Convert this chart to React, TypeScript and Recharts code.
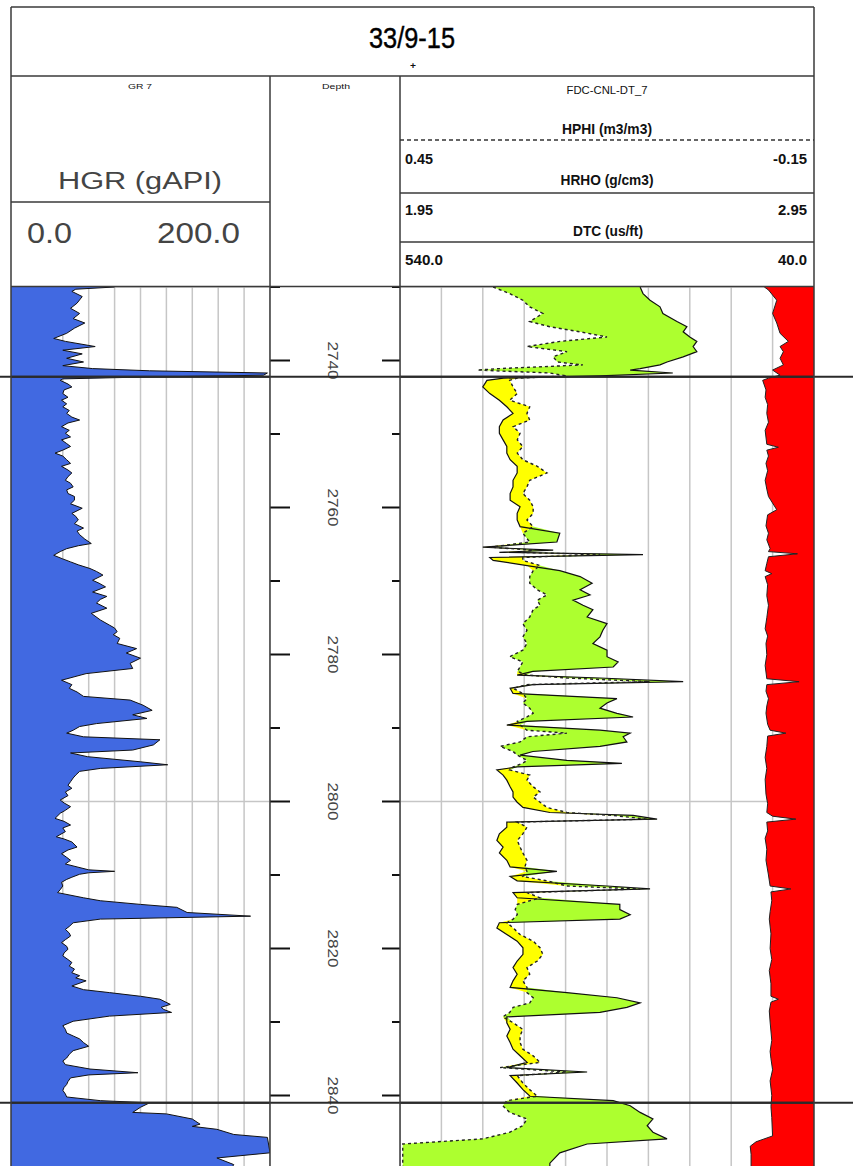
import React from 'react';
import { ComposedChart, Area, Line, XAxis, YAxis, CartesianGrid, ReferenceLine } from 'recharts';

// depth window of the plot (m)
const TOP_DEPTH = 2730;
const BASE_DEPTH = 2850;

const depthTicks = [2730, 2740, 2750, 2760, 2770, 2780, 2790, 2800, 2810, 2820, 2830, 2840, 2850];
const depthLabels = [2740, 2760, 2780, 2800, 2820, 2840];
const depthGrid = [2800];
const formationTops = [2742.2, 2841.0];

const grTicks = [0, 20, 40, 60, 80, 100, 120, 140, 160, 180, 200];
const dtcTicks = [40, 90, 140, 190, 240, 290, 340, 390, 440, 490, 540];

// [depth, HGR gAPI]
const grLog: [number, number][] = [
  [2730.0, 80], [2730.3, 50], [2730.6, 47], [2731.3, 55], [2732.2, 51], [2732.9, 46], [2733.6, 53],
  [2734.3, 48], [2734.9, 57], [2735.6, 49], [2736.3, 43], [2737.0, 33], [2737.4, 42], [2738.1, 65],
  [2738.6, 40], [2739.1, 55], [2739.7, 43], [2740.2, 56], [2740.7, 40], [2741.1, 63], [2741.4, 107],
  [2741.7, 198], [2742.0, 195], [2742.3, 90], [2742.5, 40], [2742.7, 38], [2743.2, 44], [2743.6, 47],
  [2744.0, 41], [2744.5, 40], [2745.0, 44], [2745.4, 39], [2745.9, 43], [2746.3, 40], [2746.8, 45],
  [2747.2, 43], [2747.7, 47], [2748.1, 53], [2748.5, 44], [2749.0, 39], [2749.5, 45], [2749.9, 42],
  [2750.4, 46], [2750.8, 39], [2751.3, 43], [2751.7, 46], [2752.2, 40], [2752.6, 34], [2753.0, 40],
  [2753.5, 43], [2754.0, 46], [2754.4, 39], [2754.9, 44], [2755.3, 47], [2755.8, 44], [2756.3, 42],
  [2756.7, 46], [2757.2, 48], [2757.6, 43], [2758.1, 44], [2758.5, 49], [2759.0, 49], [2759.5, 46],
  [2760.1, 55], [2760.8, 47], [2761.2, 50], [2761.7, 52], [2762.2, 49], [2762.8, 56], [2763.2, 51],
  [2763.7, 53], [2764.3, 57], [2764.9, 62], [2765.2, 52], [2765.6, 43], [2766.0, 38], [2766.5, 33],
  [2767.0, 40], [2767.4, 46], [2767.8, 52], [2768.3, 61], [2768.7, 66], [2769.2, 71], [2769.9, 63],
  [2770.3, 68], [2770.8, 73], [2771.5, 63], [2772.1, 74], [2772.5, 69], [2773.0, 66], [2773.7, 74],
  [2774.4, 62], [2775.3, 69], [2776.0, 76], [2776.4, 80], [2776.9, 82], [2777.3, 79], [2777.8, 84],
  [2778.5, 82], [2779.2, 97], [2779.8, 89], [2780.5, 100], [2781.2, 92], [2781.9, 94], [2782.6, 58],
  [2783.5, 39], [2784.1, 47], [2784.6, 45], [2785.1, 51], [2785.7, 56], [2786.2, 92], [2786.9, 102],
  [2787.6, 109], [2788.2, 94], [2788.7, 105], [2789.4, 66], [2789.8, 53], [2790.3, 48], [2790.7, 43],
  [2791.2, 56], [2791.6, 115], [2792.3, 110], [2793.0, 94], [2793.4, 46], [2793.9, 59], [2794.6, 100],
  [2795.0, 121], [2795.5, 69], [2795.9, 53], [2796.4, 50], [2796.8, 48], [2797.3, 46], [2797.8, 44],
  [2798.2, 47], [2798.7, 42], [2799.2, 44], [2799.8, 38], [2800.2, 41], [2800.7, 46], [2801.2, 42],
  [2801.6, 38], [2802.3, 34], [2802.7, 41], [2803.2, 46], [2803.6, 40], [2804.1, 42], [2804.8, 35],
  [2805.1, 41], [2805.5, 47], [2806.2, 51], [2806.6, 44], [2807.1, 39], [2807.6, 43], [2808.0, 46],
  [2808.5, 42], [2808.9, 51], [2809.3, 60], [2809.5, 80], [2809.7, 60], [2809.9, 53], [2810.3, 47],
  [2810.6, 43], [2811.0, 39], [2811.5, 40], [2812.0, 38], [2812.4, 36], [2813.1, 56], [2813.5, 69],
  [2814.0, 100], [2814.4, 128], [2815.1, 136], [2815.6, 185], [2816.0, 69], [2816.5, 48], [2817.0, 45],
  [2817.4, 42], [2817.9, 45], [2818.3, 46], [2818.8, 42], [2819.2, 39], [2819.7, 43], [2820.1, 44],
  [2820.6, 41], [2821.0, 40], [2821.5, 44], [2821.9, 47], [2822.4, 45], [2822.8, 49], [2823.3, 47],
  [2823.7, 53], [2824.0, 50], [2824.4, 58], [2825.1, 47], [2825.6, 56], [2826.0, 76], [2826.5, 100],
  [2826.9, 115], [2827.6, 123], [2828.0, 116], [2828.3, 118], [2828.7, 124], [2829.2, 76], [2829.9, 48],
  [2830.5, 40], [2831.0, 42], [2831.5, 43], [2831.9, 48], [2832.3, 53], [2832.8, 56], [2833.3, 60],
  [2833.9, 48], [2834.4, 45], [2834.9, 43], [2835.3, 40], [2835.8, 42], [2836.4, 61], [2836.9, 98],
  [2837.2, 60], [2837.6, 46], [2838.1, 44], [2838.5, 43], [2838.9, 41], [2839.3, 40], [2839.8, 42],
  [2840.2, 43], [2840.7, 69], [2841.0, 107], [2841.6, 100], [2842.3, 94], [2842.5, 120], [2843.2, 140],
  [2843.9, 146], [2844.2, 140], [2844.6, 159], [2845.3, 172], [2845.7, 198], [2847.8, 200], [2848.5, 159],
  [2849.4, 172], [2850.0, 170],
];

// [depth, HPHI m3/m3, HRHO g/cm3]
const ndLog: [number, number, number][] = [
  [2730.0, 0.315, 2.53], [2730.9, 0.291, 2.537], [2731.8, 0.272, 2.554], [2732.7, 0.262, 2.578],
  [2733.6, 0.243, 2.585], [2734.7, 0.262, 2.619], [2735.4, 0.233, 2.643], [2736.1, 0.189, 2.634],
  [2736.8, 0.15, 2.65], [2737.4, 0.218, 2.667], [2738.1, 0.266, 2.658], [2738.8, 0.208, 2.667],
  [2739.5, 0.228, 2.634], [2740.2, 0.222, 2.595], [2740.6, 0.185, 2.578], [2741.1, 0.305, 2.53],
  [2741.3, 0.338, 2.506], [2741.7, 0.233, 2.609], [2742.1, 0.208, 2.433], [2742.4, 0.28, 2.2],
  [2742.7, 0.291, 2.16], [2743.6, 0.286, 2.15], [2744.5, 0.28, 2.167], [2745.4, 0.291, 2.19],
  [2746.3, 0.262, 2.208], [2747.2, 0.266, 2.223], [2748.1, 0.262, 2.199], [2749.0, 0.286, 2.19],
  [2749.9, 0.276, 2.19], [2750.8, 0.28, 2.199], [2751.7, 0.272, 2.208], [2752.6, 0.28, 2.208],
  [2753.5, 0.272, 2.216], [2754.4, 0.251, 2.233], [2755.3, 0.237, 2.233], [2756.3, 0.262, 2.223],
  [2757.2, 0.266, 2.223], [2758.1, 0.272, 2.216], [2759.0, 0.262, 2.216], [2759.9, 0.257, 2.24],
  [2760.8, 0.257, 2.233], [2761.7, 0.266, 2.233], [2762.6, 0.257, 2.24], [2763.5, 0.272, 2.336],
  [2764.7, 0.262, 2.329], [2765.4, 0.32, 2.15], [2765.8, 0.257, 2.32], [2766.1, 0.276, 2.19],
  [2766.4, 0.16, 2.537], [2766.8, 0.272, 2.167], [2767.2, 0.272, 2.175], [2767.9, 0.247, 2.257],
  [2768.6, 0.257, 2.336], [2769.4, 0.262, 2.385], [2770.3, 0.262, 2.414], [2771.2, 0.251, 2.385],
  [2771.9, 0.237, 2.409], [2772.6, 0.251, 2.368], [2773.3, 0.247, 2.392], [2773.9, 0.257, 2.416],
  [2774.9, 0.262, 2.402], [2775.8, 0.272, 2.45], [2776.7, 0.266, 2.44], [2777.6, 0.272, 2.433],
  [2778.5, 0.266, 2.416], [2779.4, 0.272, 2.45], [2780.3, 0.291, 2.45], [2781.0, 0.272, 2.477],
  [2781.7, 0.276, 2.465], [2782.3, 0.28, 2.271], [2782.8, 0.266, 2.233], [2783.2, 0.208, 2.433],
  [2783.7, 0.088, 2.634], [2784.1, 0.266, 2.271], [2784.6, 0.286, 2.216], [2785.3, 0.272, 2.223],
  [2786.0, 0.266, 2.474], [2786.6, 0.272, 2.45], [2787.3, 0.262, 2.433], [2788.0, 0.257, 2.474],
  [2788.5, 0.266, 2.513], [2789.1, 0.28, 2.257], [2789.6, 0.276, 2.208], [2790.3, 0.266, 2.433],
  [2790.7, 0.208, 2.506], [2791.2, 0.266, 2.489], [2791.9, 0.276, 2.498], [2792.5, 0.305, 2.433],
  [2793.2, 0.286, 2.271], [2793.7, 0.28, 2.24], [2794.4, 0.266, 2.353], [2794.8, 0.272, 2.486],
  [2795.3, 0.286, 2.233], [2795.7, 0.291, 2.184], [2796.4, 0.262, 2.199], [2797.1, 0.266, 2.208],
  [2798.0, 0.257, 2.216], [2798.7, 0.247, 2.223], [2799.4, 0.257, 2.223], [2800.1, 0.247, 2.233],
  [2800.8, 0.237, 2.247], [2801.5, 0.208, 2.312], [2801.9, 0.141, 2.513], [2802.4, 0.092, 2.571],
  [2802.8, 0.28, 2.208], [2803.5, 0.266, 2.208], [2804.4, 0.272, 2.19], [2805.3, 0.28, 2.184],
  [2806.2, 0.276, 2.199], [2807.0, 0.272, 2.19], [2808.0, 0.266, 2.208], [2808.9, 0.269, 2.216],
  [2809.5, 0.266, 2.329], [2810.2, 0.272, 2.216], [2810.8, 0.237, 2.233], [2811.5, 0.208, 2.45],
  [2811.9, 0.102, 2.554], [2812.4, 0.266, 2.223], [2813.1, 0.247, 2.233], [2814.0, 0.28, 2.481],
  [2814.7, 0.283, 2.481], [2815.4, 0.28, 2.506], [2816.0, 0.286, 2.481], [2816.5, 0.295, 2.19],
  [2817.2, 0.286, 2.184], [2818.1, 0.276, 2.208], [2819.0, 0.257, 2.233], [2819.9, 0.247, 2.247],
  [2820.8, 0.243, 2.247], [2821.7, 0.251, 2.233], [2822.6, 0.266, 2.223], [2823.5, 0.262, 2.233],
  [2824.4, 0.272, 2.223], [2825.3, 0.266, 2.216], [2826.0, 0.266, 2.353], [2826.7, 0.257, 2.474],
  [2827.4, 0.262, 2.53], [2828.0, 0.286, 2.498], [2828.7, 0.291, 2.433], [2829.3, 0.301, 2.208],
  [2830.1, 0.286, 2.208], [2831.0, 0.272, 2.216], [2831.9, 0.276, 2.208], [2832.8, 0.276, 2.216],
  [2833.7, 0.272, 2.223], [2834.6, 0.257, 2.24], [2835.5, 0.247, 2.257], [2836.2, 0.305, 2.208],
  [2836.8, 0.208, 2.402], [2837.3, 0.28, 2.216], [2838.3, 0.272, 2.233], [2839.2, 0.262, 2.247],
  [2840.1, 0.251, 2.264], [2840.7, 0.295, 2.465], [2841.4, 0.301, 2.506], [2842.3, 0.291, 2.53],
  [2843.2, 0.266, 2.561], [2844.1, 0.272, 2.547], [2845.0, 0.291, 2.561], [2845.9, 0.33, 2.595],
  [2846.6, 0.446, 2.402], [2847.8, 0.446, 2.336], [2849.2, 0.446, 2.312], [2850.0, 0.446, 2.312],
];

// [depth, DTC us/ft]
const dtcLog: [number, number][] = [
  [2730.0, 100], [2730.4, 95], [2731.8, 85], [2733.6, 90], [2734.9, 85], [2736.3, 81], [2737.4, 71],
  [2738.1, 81], [2738.8, 77], [2739.7, 81], [2740.6, 77], [2741.3, 90], [2742.0, 81], [2742.4, 95],
  [2742.7, 102], [2744.0, 98], [2745.0, 99], [2746.0, 96], [2747.2, 97], [2748.4, 95], [2749.5, 99],
  [2751.4, 97], [2751.8, 83], [2752.2, 97], [2753.0, 95], [2754.0, 98], [2755.0, 96], [2756.3, 99],
  [2757.5, 97], [2758.5, 95], [2760.3, 85], [2761.0, 96], [2762.5, 98], [2763.5, 95], [2764.4, 97],
  [2765.6, 93], [2766.0, 95], [2766.3, 60], [2766.7, 95], [2767.6, 97], [2768.6, 99], [2769.0, 91],
  [2769.4, 99], [2770.5, 96], [2772.0, 97], [2773.3, 95], [2775.0, 97], [2776.5, 99], [2777.5, 96],
  [2778.5, 98], [2780.0, 97], [2781.5, 99], [2783.3, 97], [2783.7, 58], [2784.1, 97], [2785.0, 98],
  [2786.0, 95], [2787.0, 97], [2788.0, 98], [2789.5, 96], [2790.3, 93], [2790.7, 74], [2791.1, 96],
  [2792.5, 97], [2794.0, 99], [2795.5, 97], [2797.0, 99], [2799.0, 98], [2800.3, 96], [2801.5, 97],
  [2802.0, 90], [2802.4, 62], [2802.8, 97], [2804.0, 96], [2805.0, 99], [2806.5, 97], [2808.0, 98],
  [2810.0, 95], [2811.5, 93], [2811.9, 68], [2812.3, 92], [2813.5, 91], [2815.0, 93], [2816.0, 94],
  [2818.0, 92], [2820.0, 93], [2821.5, 91], [2823.0, 94], [2824.8, 92], [2826.5, 92], [2826.9, 83],
  [2827.3, 92], [2828.5, 94], [2830.0, 93], [2832.5, 91], [2834.0, 93], [2835.0, 92], [2836.5, 90],
  [2838.0, 93], [2840.0, 91], [2841.5, 92], [2843.0, 91], [2845.5, 90], [2846.3, 110], [2846.9, 117],
  [2848.0, 116], [2850.0, 116],
];

// header scales of the neutron / density overlay
const NPHI_LEFT = 0.45;
const NPHI_RIGHT = -0.15;
const RHOB_LEFT = 1.95;
const RHOB_RIGHT = 2.95;

const TRACK_TOP = 287;
const TRACK_H = 882;
const FONT = "'Liberation Sans', Arial, sans-serif";
const noMargin = { top: 0, right: 0, bottom: 0, left: 0 };

const grData = grLog.map(([depth, gr]) => ({ depth, gr }));
const dtcData = dtcLog.map(([depth, dtc]) => ({ depth, dtc }));
const ndData = ndLog.map(([depth, nphi, rhob]) => {
  // neutron expressed on the density scale so the two can be shaded against each other
  const nEq = RHOB_LEFT + ((NPHI_LEFT - nphi) / (NPHI_LEFT - NPHI_RIGHT)) * (RHOB_RIGHT - RHOB_LEFT);
  return {
    depth,
    nphi,
    rhob,
    green: [nEq, Math.max(nEq, rhob)],
    yellow: [Math.min(nEq, rhob), nEq],
  };
});

const DepthTick = (props: any) => {
  const { y, payload } = props;
  const major = depthLabels.includes(payload.value);
  return (
    <g>
      <line x1={0} x2={major ? 20 : 10} y1={y} y2={y} stroke="#111" strokeWidth={2} />
      <line x1={major ? 112 : 122} x2={130} y1={y} y2={y} stroke="#111" strokeWidth={2} />
      {major && (
        <text
          x={63}
          y={y}
          transform={`rotate(90, 63, ${y})`}
          textAnchor="middle"
          dominantBaseline="central"
          fontFamily={FONT}
          fontSize={15}
          fill="#444"
          textLength={38}
          lengthAdjust="spacingAndGlyphs"
        >
          {payload.value}
        </text>
      )}
    </g>
  );
};

const depthAxis = (props: any = {}) => (
  <YAxis type="number" dataKey="depth" domain={[TOP_DEPTH, BASE_DEPTH]} allowDataOverflow interval={0} {...props} />
);

const topLines = () =>
  formationTops.map((t) => <ReferenceLine key={t} y={t} stroke="#2a2a2a" strokeWidth={2} ifOverflow="visible" />);

function GrTrack() {
  return (
    <ComposedChart layout="vertical" width={259} height={TRACK_H} data={grData} margin={noMargin}>
      <CartesianGrid stroke="#c6c6c6" strokeWidth={1.5} />
      <XAxis type="number" domain={[0, 200]} ticks={grTicks} interval={0} allowDataOverflow hide />
      {depthAxis({ ticks: depthGrid, hide: true })}
      <Area
        dataKey="gr"
        type="linear"
        baseValue={0}
        fill="#4169e1"
        fillOpacity={1}
        stroke="#111"
        strokeWidth={1}
        isAnimationActive={false}
      />
      {topLines()}
    </ComposedChart>
  );
}

function DepthTrack() {
  return (
    <ComposedChart
      layout="vertical"
      width={130}
      height={TRACK_H}
      data={depthTicks.map((depth) => ({ depth }))}
      margin={noMargin}
    >
      <XAxis type="number" domain={[0, 1]} hide />
      {depthAxis({
        ticks: depthTicks,
        mirror: true,
        axisLine: false,
        tickLine: false,
        tick: <DepthTick />,
      })}
    </ComposedChart>
  );
}

function SonicTrack() {
  return (
    <ComposedChart layout="vertical" width={414} height={TRACK_H} data={dtcData} margin={noMargin}>
      <CartesianGrid stroke="#c6c6c6" strokeWidth={1.5} />
      <XAxis type="number" domain={[40, 540]} ticks={dtcTicks} interval={0} reversed allowDataOverflow hide />
      {depthAxis({ ticks: depthGrid, hide: true })}
      <Area
        dataKey="dtc"
        type="linear"
        baseValue="dataMin"
        fill="#ff0000"
        fillOpacity={1}
        stroke="#222"
        strokeWidth={1}
        isAnimationActive={false}
      />
    </ComposedChart>
  );
}

function PorosityTrack() {
  return (
    <ComposedChart layout="vertical" width={414} height={TRACK_H} data={ndData} margin={noMargin}>
      <XAxis xAxisId="rhob" type="number" domain={[RHOB_LEFT, RHOB_RIGHT]} allowDataOverflow hide />
      <XAxis xAxisId="nphi" type="number" domain={[NPHI_RIGHT, NPHI_LEFT]} reversed allowDataOverflow hide />
      {depthAxis({ hide: true })}
      <Area xAxisId="rhob" dataKey="green" type="linear" fill="#adff2f" fillOpacity={1} stroke="none" isAnimationActive={false} />
      <Area xAxisId="rhob" dataKey="yellow" type="linear" fill="#ffff00" fillOpacity={1} stroke="none" isAnimationActive={false} />
      <Line xAxisId="rhob" dataKey="rhob" type="linear" stroke="#111" strokeWidth={1.2} dot={false} isAnimationActive={false} />
      <Line
        xAxisId="nphi"
        dataKey="nphi"
        type="linear"
        stroke="#222"
        strokeWidth={1.4}
        strokeDasharray="3 3"
        dot={false}
        isAnimationActive={false}
      />
      {formationTops.map((t) => (
        <ReferenceLine key={t} xAxisId="rhob" y={t} stroke="#2a2a2a" strokeWidth={2} ifOverflow="visible" />
      ))}
    </ComposedChart>
  );
}

// the formation tops run through the whole sheet, past the frame on both sides
function FormationTops() {
  const data = formationTops.map((depth) => ({ depth, mid: 0.5 }));
  return (
    <ComposedChart layout="vertical" width={853} height={TRACK_H} data={data} margin={noMargin}>
      <XAxis type="number" domain={[0, 1]} hide />
      {depthAxis({ hide: true })}
      <Line dataKey="mid" stroke="none" dot={false} isAnimationActive={false} />
      {topLines()}
    </ComposedChart>
  );
}

const hdr = (txt: string, x: number, y: number, size: number, len: number, anchor = 'middle', extra: any = {}) => (
  <text
    x={x}
    y={y}
    textAnchor={anchor}
    fontFamily={FONT}
    fontSize={size}
    textLength={len}
    lengthAdjust="spacingAndGlyphs"
    fill="#111"
    {...extra}
  >
    {txt}
  </text>
);

function Frame() {
  const ln = { stroke: '#3a3a3a', strokeWidth: 1.5 };
  return (
    <svg width={853} height={1166} style={{ position: 'absolute', left: 0, top: 0, pointerEvents: 'none' }}>
      <line x1={11} y1={7} x2={814} y2={7} {...ln} />
      <line x1={11} y1={7} x2={11} y2={1166} {...ln} />
      <line x1={814} y1={7} x2={814} y2={1166} {...ln} />
      <line x1={11} y1={76} x2={814} y2={76} {...ln} />
      <line x1={270} y1={76} x2={270} y2={1166} {...ln} />
      <line x1={400} y1={76} x2={400} y2={1166} {...ln} />
      <line x1={11} y1={202} x2={270} y2={202} {...ln} />
      <line x1={11} y1={286.5} x2={814} y2={286.5} {...ln} />
      <line x1={400} y1={140} x2={814} y2={140} stroke="#333" strokeWidth={1.5} strokeDasharray="4 3" />
      <line x1={400} y1={193} x2={814} y2={193} {...ln} />
      <line x1={400} y1={242} x2={814} y2={242} {...ln} />

      {hdr('33/9-15', 412, 48, 29, 86, 'middle', { fill: '#000', stroke: '#000', strokeWidth: 0.4 })}
      {hdr('+', 413, 69, 9, 6, 'middle', { fontWeight: 'bold' })}

      {hdr('GR 7', 140, 89, 8, 24)}
      {hdr('HGR  (gAPI)', 140, 189, 23, 164, 'middle', { fill: '#444' })}
      {hdr('0.0', 27, 243, 29, 45, 'start', { fill: '#444' })}
      {hdr('200.0', 240, 243, 29, 83, 'end', { fill: '#444' })}

      {hdr('Depth', 336, 89, 8, 28)}

      {hdr('FDC-CNL-DT_7', 607, 94, 11, 81)}
      {hdr('HPHI (m3/m3)', 607, 134, 14, 90, 'middle', { fontWeight: 'bold' })}
      {hdr('0.45', 405, 164, 14, 28, 'start', { fontWeight: 'bold' })}
      {hdr('-0.15', 807, 164, 14, 34, 'end', { fontWeight: 'bold' })}
      {hdr('HRHO (g/cm3)', 607, 185, 14, 93, 'middle', { fontWeight: 'bold' })}
      {hdr('1.95', 405, 215, 14, 28, 'start', { fontWeight: 'bold' })}
      {hdr('2.95', 807, 215, 14, 29, 'end', { fontWeight: 'bold' })}
      {hdr('DTC (us/ft)', 608, 236, 14, 70, 'middle', { fontWeight: 'bold' })}
      {hdr('540.0', 405, 265, 14, 38, 'start', { fontWeight: 'bold' })}
      {hdr('40.0', 807, 265, 14, 29, 'end', { fontWeight: 'bold' })}
    </svg>
  );
}

const at = (left: number, width: number): React.CSSProperties => ({
  position: 'absolute',
  left,
  top: TRACK_TOP,
  width,
  height: TRACK_H,
});

export default function App() {
  return (
    <div
      style={{
        position: 'absolute',
        left: 0,
        top: 0,
        width: 853,
        height: 1166,
        overflow: 'hidden',
        background: '#fff',
      }}
    >
      <div style={at(11, 259)}>
        <GrTrack />
      </div>
      <div style={at(270, 130)}>
        <DepthTrack />
      </div>
      <div style={at(400, 414)}>
        <SonicTrack />
      </div>
      <div style={at(400, 414)}>
        <PorosityTrack />
      </div>
      <div style={{ ...at(0, 853), pointerEvents: 'none' }}>
        <FormationTops />
      </div>
      <Frame />
    </div>
  );
}
